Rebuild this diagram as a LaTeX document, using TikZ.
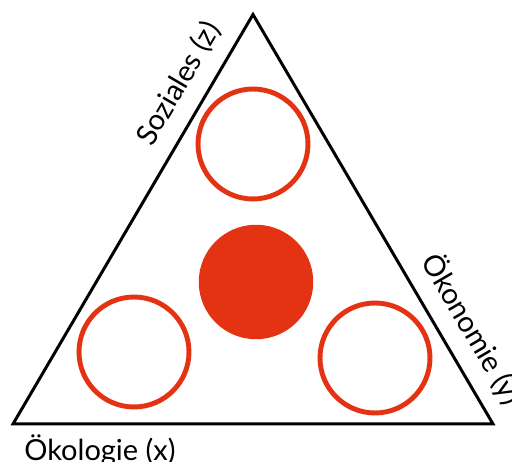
\documentclass[tikz,border=0pt]{standalone}
\usepackage{fontspec}
\setsansfont{Lato}
\usetikzlibrary{positioning}
\definecolor{signal}{RGB}{228,51,18}

\begin{document}
\begin{tikzpicture}[x=0.02cm, y=-0.02cm, font=\sffamily\fontsize{16.5}{19}\selectfont,
  ring/.style={circle, draw=signal, line width=2.8pt, minimum size=2.2cm, inner sep=0pt},
  core/.style={circle, fill=signal, minimum size=2.29cm, inner sep=0pt},
  side/.style={sloped, anchor=base, inner sep=0pt, yshift=11.3pt}]

% Manually size the picture
\useasboundingbox (0, 0) rectangle (512, 462);

% Corners
\coordinate (oek) at (13, 424);
\coordinate (eco) at (493, 424);
\coordinate (soz) at (253, 14.5);

% Triangle
\draw[line width=1.7pt] (oek) -- (eco) -- (soz) -- cycle;

% Side labels
\path (oek) -- node[side, pos=0.795] (zlab) {Soziales (z)} (soz);
\path (soz) -- node[side, pos=0.805] (ylab) {Ökonomie (y)} (eco);
\node[anchor=base west, inner sep=0pt] (xlab) at (24, 461) {Ökologie (x)};

% Circles
\node[ring] (top) at (253, 144) {};
\node[ring] (left) at (134, 352) {};
\node[ring] (right) at (375, 358) {};
\node[core] (mid) at (256, 282) {};

\end{tikzpicture}
\end{document}
